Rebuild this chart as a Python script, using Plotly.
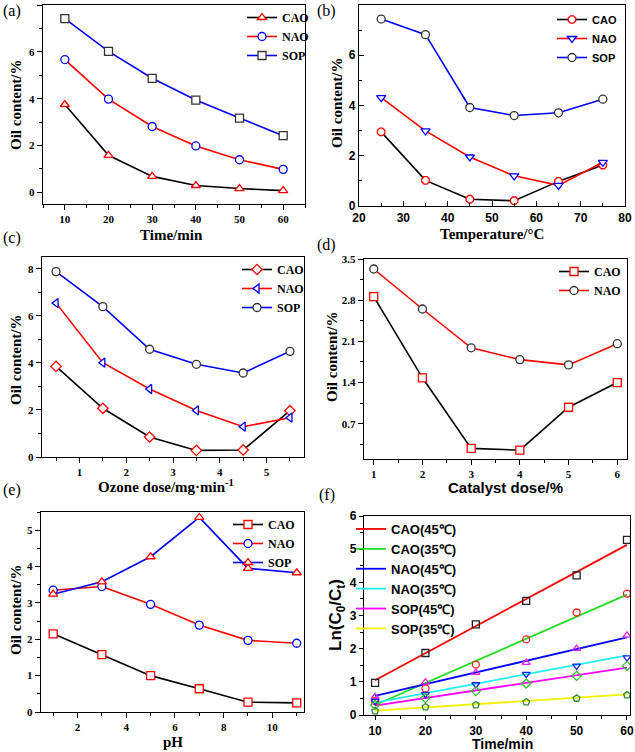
import plotly.graph_objects as go

W, H = 635, 752

# ---------------- data ----------------
# (a) Time
a_x = [10, 20, 30, 40, 50, 60]
a_cao = [3.75, 1.58, 0.68, 0.29, 0.16, 0.07]
a_nao = [5.67, 3.98, 2.81, 1.98, 1.39, 0.98]
a_sop = [7.42, 6.02, 4.87, 3.94, 3.17, 2.42]

# (b) Temperature
b_x = [25, 35, 45, 55, 65, 75]
b_cao = [2.95, 1.02, 0.27, 0.21, 0.98, 1.63]
b_nao = [4.31, 2.99, 1.95, 1.20, 0.82, 1.74]
b_sop = [7.44, 6.82, 3.92, 3.60, 3.71, 4.25]

# (c) Ozone dose
c_x = [0.5, 1.5, 2.5, 3.5, 4.5, 5.5]
c_cao = [3.85, 2.07, 0.85, 0.28, 0.30, 1.97]
c_nao = [6.54, 4.01, 2.89, 1.98, 1.29, 1.67]
c_sop = [7.88, 6.39, 4.58, 3.94, 3.57, 4.49]

# (d) Catalyst dose
d_x = [1, 2, 3, 4, 5, 6]
d_cao = [2.86, 1.48, 0.28, 0.25, 0.98, 1.40]
d_nao = [3.33, 2.65, 1.99, 1.79, 1.70, 2.06]

# (e) pH
e_x = [1, 3, 5, 7, 9, 11]
e_cao = [2.15, 1.58, 1.00, 0.64, 0.27, 0.25]
e_nao = [3.35, 3.45, 2.96, 2.39, 1.97, 1.89]
e_sop = [3.24, 3.58, 4.27, 5.35, 3.95, 3.83]

# (f) kinetics: measured points and fitted lines
f_x = [10, 20, 30, 40, 50, 60]
f_cao45 = [0.97, 1.87, 2.73, 3.44, 4.21, 5.28]
f_cao35 = [0.42, 0.80, 1.52, 2.28, 3.09, 3.66]
f_nao45 = [0.55, 0.99, 1.28, 1.58, 2.00, 2.40]
f_nao35 = [0.42, 0.63, 0.92, 1.23, 1.48, 1.73]
f_sop45 = [0.30, 0.51, 0.72, 0.95, 1.18, 1.48]
f_sop35 = [0.12, 0.24, 0.30, 0.39, 0.50, 0.60]
fit_x = [10, 60]
fit_cao45 = [1.05, 5.13]
fit_cao35 = [0.30, 3.63]
fit_nao45 = [0.58, 2.34]
fit_nao35 = [0.37, 1.80]
fit_sop45 = [0.28, 1.43]
fit_sop35 = [0.13, 0.62]
fit_names = ["CAO(45℃)", "CAO(35℃)", "NAO(45℃)", "NAO(35℃)", "SOP(45℃)", "SOP(35℃)"]

# ---------------- layout helpers ----------------
SERIF = "Liberation Serif"
SANS = "Liberation Sans"

def px_x(p):
    return p / W

def px_y(p):
    return 1 - p / H

panels = {
    # name: (xaxis id, yaxis id, left, right, top, bottom)
    "a": ("x", "y", 43, 305, 5, 204),
    "b": ("x2", "y2", 359, 625, 5, 206),
    "c": ("x3", "y3", 42, 304, 257, 457),
    "d": ("x4", "y4", 364, 627, 259, 459),
    "e": ("x5", "y5", 41, 304, 512, 712),
    "f": ("x6", "y6", 364, 630, 516, 715),
}

fig = go.Figure()

def add_series(panel, x, y, name, line_color, sym, mcolor, legend):
    xa, ya = panels[panel][0], panels[panel][1]
    fig.add_trace(go.Scatter(
        x=x, y=y, name=name, mode="lines+markers", xaxis=xa, yaxis=ya,
        line=dict(color=line_color, width=1.6),
        marker=dict(symbol=sym, size=8, color="white",
                    line=dict(color=mcolor, width=1.3)),
        legend=legend,
    ))

# (a)
add_series("a", a_x, a_cao, "CAO", "black", "triangle-up", "red", "legend")
add_series("a", a_x, a_nao, "NAO", "red", "circle", "blue", "legend")
add_series("a", a_x, a_sop, "SOP", "blue", "square", "#333333", "legend")
# (b)
add_series("b", b_x, b_cao, "CAO", "black", "octagon", "red", "legend2")
add_series("b", b_x, b_nao, "NAO", "red", "triangle-down", "blue", "legend2")
add_series("b", b_x, b_sop, "SOP", "blue", "circle", "#333333", "legend2")
# (c)
add_series("c", c_x, c_cao, "CAO", "black", "diamond", "red", "legend3")
add_series("c", c_x, c_nao, "NAO", "red", "triangle-left", "blue", "legend3")
add_series("c", c_x, c_sop, "SOP", "blue", "circle", "#333333", "legend3")
# (d)
add_series("d", d_x, d_cao, "CAO", "black", "square", "red", "legend4")
add_series("d", d_x, d_nao, "NAO", "red", "circle", "#333333", "legend4")
# (e)
add_series("e", e_x, e_cao, "CAO", "black", "square", "red", "legend5")
add_series("e", e_x, e_nao, "NAO", "red", "circle", "blue", "legend5")
add_series("e", e_x, e_sop, "SOP", "blue", "triangle-up", "red", "legend5")

# (f) fitted lines
fit_vals = [fit_cao45, fit_cao35, fit_nao45, fit_nao35, fit_sop45, fit_sop35]
fit_colors = ["#ff0000", "#22dd22", "#0000ff", "#22eeee", "#ff00ff", "#f2f200"]
for nm, vals, col in zip(fit_names, fit_vals, fit_colors):
    fig.add_trace(go.Scatter(x=fit_x, y=vals, name=nm, mode="lines",
                             xaxis="x6", yaxis="y6", legend="legend6",
                             line=dict(color=col, width=1.8)))
pts = [f_cao45, f_cao35, f_nao45, f_nao35, f_sop45, f_sop35]
pt_sym = ["square-open", "circle-open", "triangle-up-open", "triangle-down-open",
          "diamond-open", "pentagon-open"]
pt_col = ["#222222", "#ff2222", "#ee22ee", "#2222ee", "#33bb33", "#2e8b2e"]
for vals, s, c in zip(pts, pt_sym, pt_col):
    fig.add_trace(go.Scatter(x=f_x, y=vals, mode="markers", xaxis="x6", yaxis="y6",
                             showlegend=False,
                             marker=dict(symbol=s, size=7, color=c, line=dict(width=1.3, color=c))))

# ---------------- axes ----------------
axis_cfg = {
    "a": dict(xr=[5, 65], xd=10, xt0=10, yr=[-0.5, 8], yd=2, yt0=0, font=SERIF, fs=11, tl=5, tk="outside"),
    "b": dict(xr=[20, 80], xd=10, xt0=20, yr=[0, 8], yd=2, yt0=0, font=SANS, fs=12, tl=5, tk="inside"),
    "c": dict(xr=[0.2, 5.8], xd=1, xt0=1, yr=[0, 8.5], yd=2, yt0=0, font=SERIF, fs=11, tl=5, tk="outside"),
    "d": dict(xr=[0.8, 6.2], xd=1, xt0=1, yr=[0.1, 3.5], yd=0.7, yt0=0, font=SERIF, fs=11, tl=5, tk="outside"),
    "e": dict(xr=[0.5, 11.3], xd=2, xt0=0, yr=[0, 5.5], yd=1, yt0=0, font=SERIF, fs=11, tl=5, tk="outside"),
    "f": dict(xr=[7.8, 60.6], xd=10, xt0=10, yr=[0, 6], yd=1, yt0=0, font=SANS, fs=12, tl=4, tk="outside"),
}

layout = dict(
    template="none",
    width=W, height=H, margin=dict(l=0, r=0, t=0, b=0, autoexpand=False),
    paper_bgcolor="white", plot_bgcolor="white", showlegend=True,
)

for key, (xa, ya, l, r, t, b) in panels.items():
    cfg = axis_cfg[key]
    xname = "xaxis" + xa[1:]
    yname = "yaxis" + ya[1:]
    tf = dict(family=cfg["font"], size=cfg["fs"], color="black", weight="bold")
    common = dict(showline=True, linecolor="black", linewidth=1.4, mirror=True,
                  ticks=cfg["tk"], ticklen=cfg["tl"], tickwidth=1.2, tickcolor="black",
                  showgrid=False, zeroline=False, tickfont=tf, fixedrange=True,
                  automargin=False)
    layout[xname] = dict(domain=[px_x(l), px_x(r)], anchor=ya, range=cfg["xr"],
                         tickmode="linear", dtick=cfg["xd"], tick0=cfg["xt0"],
                         minor=dict(ticks=cfg["tk"], ticklen=3, tickcolor="black",
                                    dtick=cfg["xd"] / 2, tick0=cfg["xt0"]),
                         **common)
    layout[yname] = dict(domain=[px_y(b), px_y(t)], anchor=xa, range=cfg["yr"],
                         tickmode="linear", dtick=cfg["yd"], tick0=cfg["yt0"],
                         minor=dict(ticks=cfg["tk"], ticklen=3, tickcolor="black",
                                    dtick=cfg["yd"] / 2, tick0=cfg["yt0"]),
                         **common)

layout["yaxis4"]["tickformat"] = ".1f"

# ---------------- legends ----------------
def leg(xp, yp, fam, size):
    return dict(x=px_x(xp), y=px_y(yp), xanchor="left", yanchor="top",
                xref="paper", yref="paper", bgcolor="rgba(0,0,0,0)",
                borderwidth=0, itemwidth=30,
                font=dict(family=fam, size=size, color="black", weight="bold"))

layout["legend"] = leg(242, 3, SERIF, 12)
layout["legend2"] = leg(552, 5, SANS, 11)
layout["legend3"] = leg(237, 255, SERIF, 12)
layout["legend4"] = leg(554, 257, SERIF, 12)
layout["legend5"] = leg(228, 510, SERIF, 12)
layout["legend6"] = leg(351, 514, SANS, 13)

fig.update_layout(**layout)

# ---------------- texts ----------------
ann = []

def text(xp, yp, s, fam, size, bold=True, angle=0):
    ann.append(dict(x=px_x(xp), y=px_y(yp), xref="paper", yref="paper",
                    text=s, showarrow=False, textangle=angle,
                    xanchor="center", yanchor="middle",
                    font=dict(family=fam, size=size, color="black",
                              weight="bold" if bold else "normal")))

# panel letters
text(12, 11, "(a)", SERIF, 16, bold=False)
text(327, 11, "(b)", SERIF, 16, bold=False)
text(12, 238, "(c)", SERIF, 16, bold=False)
text(327, 245, "(d)", SERIF, 16, bold=False)
text(12, 490, "(e)", SERIF, 16, bold=False)
text(327, 495, "(f)", SERIF, 16, bold=False)

# axis titles
text(171, 235, "Time/min", SERIF, 15)
text(16, 105, "Oil content/%", SERIF, 15, angle=-90)
text(492, 234, "Temperature/°C", SERIF, 15)
text(337, 103, "Oil content/%", SERIF, 15, angle=-90)
text(166, 486, "Ozone dose/mg·min<sup>-1</sup>", SERIF, 15)
text(16, 360, "Oil content/%", SERIF, 15, angle=-90)
text(505, 487, "Catalyst dose/%", SANS, 15)
text(332, 357, "Oil content/%", SERIF, 15, angle=-90)
text(173, 742, "pH", SERIF, 15)
text(16, 610, "Oil content/%", SERIF, 15, angle=-90)
text(502, 744, "Time/min", SANS, 14)
text(337, 615, "Ln(C<sub>0</sub>/C<sub>t</sub>)", SANS, 17, angle=-90)

fig.update_layout(annotations=ann)

fig.write_html(
    "out.html",
    config={"displayModeBar": False},
    post_script="document.body.style.margin='0';document.body.style.overflow='hidden';",
)
